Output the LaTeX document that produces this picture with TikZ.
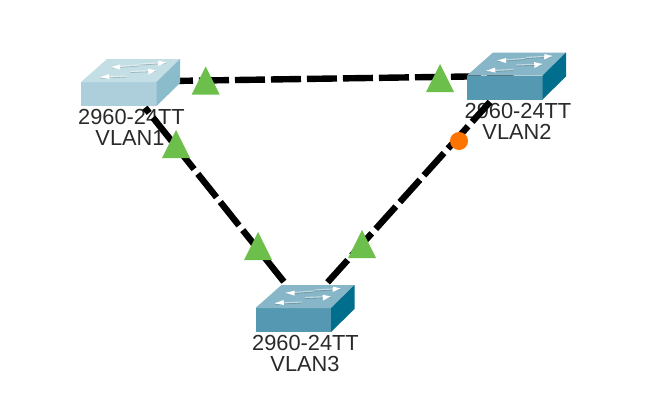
\documentclass[tikz,border=0pt]{standalone}
\usepackage{fontspec}
\setmainfont{Liberation Sans}
\definecolor{lightfront}{HTML}{ADCEDB}
\definecolor{lighttop}{HTML}{C4DEE6}
\definecolor{lightside}{HTML}{8ABCCB}
\definecolor{darkfront}{HTML}{5499B1}
\definecolor{darktop}{HTML}{87B6C8}
\definecolor{darkside}{HTML}{006E8C}
\definecolor{mark green}{HTML}{6CBF4B}
\definecolor{mark orange}{HTML}{FF7300}
\definecolor{labelgray}{HTML}{2A2A2A}
\tikzset{
  x=1pt,y=-1pt,
  link/.style={line width=6.4pt,black},
  swlabel/.style={anchor=base,inner sep=0pt,text=labelgray,font=\fontsize{21.8}{24}\selectfont},
  swshaft/.style={white,opacity=0.5,line width=1.1pt},
  swshade/.style={black,opacity=0.18,line width=0.8pt},
}
% one arrow on a switch top: tail, tip, two head corners
\newcommand{\swarr}[4]{%
  \draw[swshade] ([yshift=-1pt]#1) -- ([yshift=-1pt]#2);
  \draw[swshaft] (#1) -- (#2);
  \fill[white] (#2) -- (#3) -- (#4) -- cycle;%
}
% #1 x of front left, #2 y of front top, #3 front colour, #4 top colour, #5 side colour
\newcommand{\swbox}[5]{%
  \begin{scope}[shift={(#1,#2)}]
    \fill[#3] (0,0) rectangle (75.5,24);
    \fill[#4] (0,0) -- (26,-23) -- (99,-23) -- (75.5,0) -- cycle;
    \fill[#5] (75.5,0) -- (99,-23) -- (99,1) -- (75.5,24) -- cycle;
    \swarr{58,-17}{30.5,-15}{39,-17.5}{39,-12.5}
    \swarr{59,-18}{85,-19.5}{77.5,-21.5}{77,-16}
    \swarr{46,-6}{19.5,-4.7}{28,-8}{28.5,-3}
    \swarr{49.5,-10.5}{75,-11.5}{67,-13.5}{67.5,-7.5}
  \end{scope}%
}
\newcommand{\uptri}[2]{\fill[mark green] (#1,#2) -- (#1-14,#2+28) -- (#1+14,#2+28) -- cycle;}
\begin{document}
\begin{tikzpicture}
\useasboundingbox (0,0) rectangle (672,410);
% labels
\node[swlabel] (la1) at (131.5,124) {2960-24TT};
\node[swlabel] (lb1) at (130,145) {VLAN1};
\node[swlabel] (la2) at (518,118) {2960-24TT};
\node[swlabel] (lb2) at (517,139) {VLAN2};
\node[swlabel] (la3) at (305.5,350) {2960-24TT};
\node[swlabel] (lb3) at (305,371) {VLAN3};
% switch anchors
\coordinate (s1) at (124.3,81.7);
\coordinate (s2) at (513.5,75.8);
\coordinate (s3) at (304.7,307.8);
% links
\draw[link,dash pattern=on 30pt off 6pt,dash phase=33.3pt] (s1) -- (s2);
\draw[link,dash pattern=on 30pt off 6pt,dash phase=23.3pt,shorten <=33.2pt,shorten >=31.6pt] (s1) -- (s3);
\draw[link,dash pattern=on 30pt off 6pt,dash phase=3.2pt,shorten <=35.1pt,shorten >=33.3pt] (s2) -- (s3);
% switches
\swbox{81}{82}{lightfront}{lighttop}{lightside}
\swbox{467}{75.5}{darkfront}{darktop}{darkside}
\swbox{255.5}{308}{darkfront}{darktop}{darkside}
% status marks
\uptri{205.7}{66.5}
\uptri{176}{130}
\uptri{258}{232}
\uptri{362}{230}
\uptri{440}{64}
\fill[mark orange] (459,141) circle (9);
\end{tikzpicture}
\end{document}
